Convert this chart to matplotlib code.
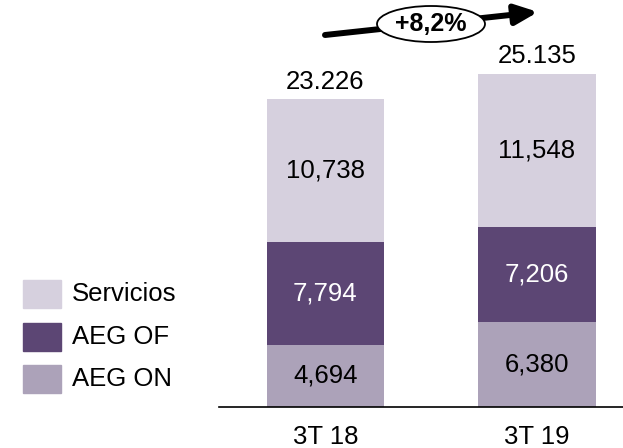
import matplotlib
matplotlib.use('Agg')
import matplotlib.pyplot as plt
from matplotlib.patches import Ellipse, Rectangle
import numpy as np

plt.rcParams['font.family'] = ['Liberation Sans', 'DejaVu Sans']

categories = ['3T 18', '3T 19']
series = ['AEG ON', 'AEG OF', 'Servicios']
aeg_on = [4.694, 6.380]
aeg_of = [7.794, 7.206]
servicios = [10.738, 11.548]
totals = ['23.226', '25.135']
growth = '+8,2%'

colors = {'AEG ON': '#aca2b9', 'AEG OF': '#5c4674', 'Servicios': '#d6d0de'}
text_colors = {'AEG ON': 'black', 'AEG OF': 'white', 'Servicios': 'black'}

W, H = 623, 448
fig = plt.figure(figsize=(W / 100, H / 100), dpi=100)
ax = fig.add_axes([219 / W, 41 / H, 404 / W, 407 / H])

x = np.arange(len(categories))
bottom = np.zeros(len(categories))
fs = 18.5
for name, vals in zip(series, [aeg_on, aeg_of, servicios]):
    bars = ax.bar(x, vals, width=0.555, bottom=bottom, color=colors[name], label=name)
    ax.bar_label(bars, labels=[f"{v:.3f}".replace('.', ',') for v in vals],
                 label_type='center', fontsize=fs, color=text_colors[name])
    bottom += np.array(vals)
ax.bar_label(bars, labels=totals, padding=4, fontsize=fs)

ax.set_xlim(-0.502, 1.406)
ax.set_ylim(0, 30.72)
ax.set_xticks(x)
ax.set_xticklabels(categories, fontsize=fs)
ax.tick_params(axis='x', length=0, pad=13)
ax.set_yticks([])
for s in ['top', 'right', 'left']:
    ax.spines[s].set_visible(False)
ax.spines['bottom'].set_linewidth(1.2)

# legend drawn by hand (top row = Servicios)
for i, name in enumerate(series[::-1]):
    top = 280 + i * 42.5
    fig.add_artist(Rectangle((23 / W, 1 - (top + 28) / H), 38 / W, 28 / H,
                             color=colors[name], transform=fig.transFigure))
    fig.text(72 / W, 1 - (top + 14) / H, name, fontsize=fs, va='center', ha='left')

# growth arrow
ax.annotate('', xy=(538, H - 12), xytext=(325, H - 35),
            xycoords='figure pixels', textcoords='figure pixels',
            arrowprops=dict(arrowstyle='-|>,head_length=0.9,head_width=0.4',
                            lw=4.3, color='black', mutation_scale=15,
                            shrinkA=0, shrinkB=0))
fig.add_artist(Ellipse((431 / W, 1 - 24 / H), 108 / W, 36 / H, facecolor='white',
                       edgecolor='black', lw=1.3, transform=fig.transFigure, zorder=5))
fig.text(431 / W, 1 - 24 / H, growth, fontsize=18, fontweight='bold',
         ha='center', va='center', zorder=6)

fig.savefig('out.png', dpi=100)
